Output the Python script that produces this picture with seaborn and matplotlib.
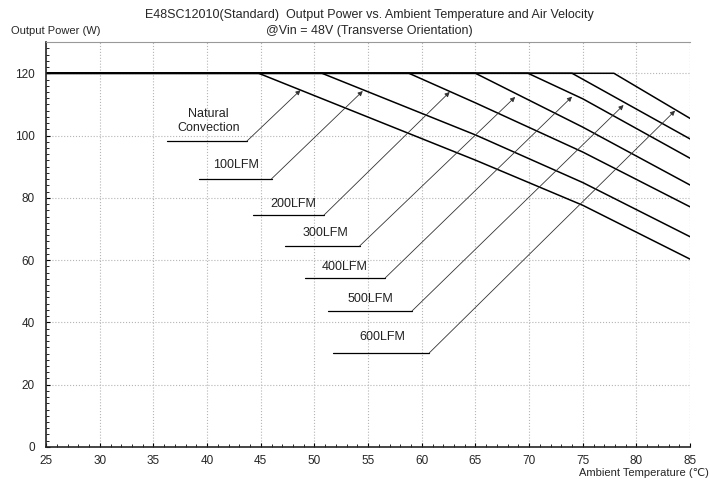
#%%
# import modules
import numpy as np
import pandas as pd
import matplotlib
matplotlib.use('Agg')
import matplotlib.pyplot as plt
from matplotlib.ticker import MultipleLocator
import seaborn as sns

#%%
# derating curves (temperature in C, power in W)
labels = ['Natural\nConvection', '100LFM', '200LFM', '300LFM', '400LFM', '500LFM', '600LFM']

nc_temp = [25, 44.8, 65, 75, 85]
nc_power = [120, 120, 92.1, 77.6, 60.3]
lfm100_temp = [25, 50.7, 65, 75, 85]
lfm100_power = [120, 120, 100.2, 84.9, 67.5]
lfm200_temp = [25, 58.8, 65, 75, 85]
lfm200_power = [120, 120, 110.5, 94.7, 77.1]
lfm300_temp = [25, 65.0, 75, 85]
lfm300_power = [120, 120, 102.7, 84.1]
lfm400_temp = [25, 69.9, 75, 85]
lfm400_power = [120, 120, 111.8, 92.7]
lfm500_temp = [25, 74.0, 85]
lfm500_power = [120, 120, 98.9]
lfm600_temp = [25, 77.9, 85]
lfm600_power = [120, 120, 105.5]

temps = [nc_temp, lfm100_temp, lfm200_temp, lfm300_temp, lfm400_temp, lfm500_temp, lfm600_temp]
powers = [nc_power, lfm100_power, lfm200_power, lfm300_power, lfm400_power, lfm500_power, lfm600_power]

x_ticks = list(range(25, 90, 5))
y_ticks = list(range(0, 140, 20))

#%%
# where the callouts sit (text centre, underline start/end, arrow tip)
text_pos = [(40.1, 104.8), (42.65, 90.6), (48.0, 78.0), (51.0, 68.7), (52.8, 57.7), (55.2, 47.5), (56.3, 35.3)]
line_start = [(36.3, 98.2), (39.2, 86.1), (44.3, 74.5), (47.3, 64.5), (49.1, 54.3), (51.3, 43.7), (51.7, 30.2)]
line_end = [(43.7, 98.2), (46.0, 86.1), (50.9, 74.5), (54.2, 64.5), (56.6, 54.3), (59.1, 43.7), (60.7, 30.2)]
arrow_tip = [(48.7, 114.6), (54.5, 114.3), (62.6, 114.0), (68.7, 112.4), (74.0, 112.5), (78.8, 109.8), (83.6, 108.0)]

#%%
sns.set_style('ticks')
plt.rcParams['font.family'] = ['Liberation Sans', 'DejaVu Sans']
plt.rcParams['font.size'] = 8

fig = plt.figure(figsize=(7.1, 4.79), dpi=100)
ax = fig.add_axes([0.065, 0.067, 0.907, 0.845])

# curves
for t, p in zip(temps, powers):
    df = pd.DataFrame({'temp': t, 'power': p})
    sns.lineplot(data=df, x='temp', y='power', color='black', lw=1.1,
                 sort=False, estimator=None, ax=ax)

# callouts
for lab, tp, s, e, tip in zip(labels, text_pos, line_start, line_end, arrow_tip):
    ax.plot([s[0], e[0]], [s[1], e[1]], color='black', lw=0.9)
    ax.annotate('', xy=tip, xytext=e,
                arrowprops=dict(arrowstyle='-|>', color='#333333', lw=0.6,
                                mutation_scale=7, shrinkA=0, shrinkB=0))
    ax.text(tp[0], tp[1], lab, ha='center', va='center', fontsize=9,
            linespacing=1.2, color='#222222')

ax.set_xlim(25, 85)
ax.set_ylim(0, 130)
ax.set_xticks(x_ticks)
ax.set_yticks(y_ticks)
ax.xaxis.set_minor_locator(MultipleLocator(1))
ax.yaxis.set_minor_locator(MultipleLocator(2))
ax.tick_params(which='both', direction='in', top=False, right=False, labelsize=8.5, color='black')
ax.tick_params(which='major', length=3)
ax.tick_params(axis='x', which='major', pad=6)
ax.tick_params(axis='y', which='major', pad=8)
ax.tick_params(which='minor', length=2)
ax.grid(True, which='major', ls=':', color='#b5b5b5', lw=0.8)
ax.axvline(85, ls=':', color='#b5b5b5', lw=0.8)

ax.spines['left'].set_linewidth(1.2)
ax.spines['bottom'].set_linewidth(1.2)
ax.spines['right'].set_visible(False)
ax.spines['top'].set_color('#999999')
ax.spines['top'].set_linewidth(0.8)
ax.set_xlabel('')
ax.set_ylabel('')

fig.text(0.52, 0.968, 'E48SC12010(Standard)  Output Power vs. Ambient Temperature and Air Velocity',
         ha='center', va='center', fontsize=9)
fig.text(0.52, 0.935, '@Vin = 48V (Transverse Orientation)', ha='center', va='center', fontsize=9)
fig.text(0.015, 0.935, 'Output Power (W)', ha='left', va='center', fontsize=8)
fig.text(0.998, 0.002, 'Ambient Temperature (\u2103)', ha='right', va='bottom', fontsize=8)

fig.savefig('out.png', dpi=100)
